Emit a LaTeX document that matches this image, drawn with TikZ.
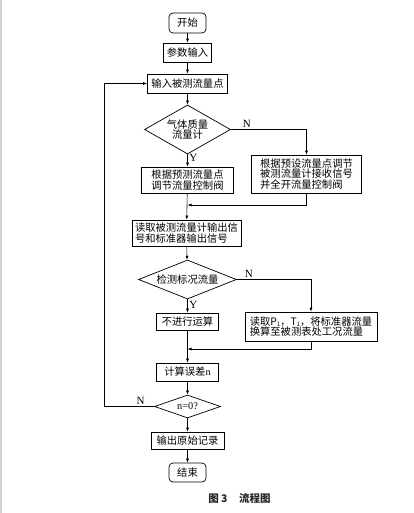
\documentclass[tikz,border=0pt]{standalone}
\usepackage{fontspec}
\setmainfont{Liberation Serif}
\newfontfamily\cjk{Noto Sans CJK SC}
\usetikzlibrary{shapes.geometric}
\usetikzlibrary{arrows.meta}

\tikzset{
  box/.style={draw, line width=0.25mm, inner sep=0pt, font=\cjk\fontsize{10.3}{10.5}\selectfont},
  endbox/.style={box, rounded corners=4pt},
  dia/.style={draw, diamond, line width=0.25mm, inner sep=0pt, font=\cjk\fontsize{10.3}{10.5}\selectfont, align=center},
  arr/.style={line width=0.2mm, -{Latex[length=4pt,width=3pt]}},
  yn/.style={font=\fontsize{11}{11}\selectfont, inner sep=1.5pt}
}

\begin{document}
\begin{tikzpicture}[x=1pt, y=-1pt]
      \useasboundingbox (0, 0) rectangle (414, 513);
      \fill[gray!35] (0, 0) rectangle (2, 513);

      \node[endbox, minimum width=37pt, minimum height=20pt] (start) at (187.5, 23) {开始};
      \node[box, minimum width=48pt, minimum height=19pt] (param) at (187.5, 52.5) {参数输入};
      \node[box, minimum width=80pt, minimum height=19pt] (input) at (187.5, 83.5) {输入被测流量点};
      \node[dia, minimum width=86pt, minimum height=49pt, shape aspect=1.75] (gas) at (187.5, 129.5) {气体质量\\流量计};
      \node[box, minimum width=92pt, minimum height=26pt, align=left] (predict) at (187.5, 180) {根据预测流量点\\调节流量控制阀};
      \node[box, minimum width=110pt, minimum height=38pt, align=left] (preset) at (306.5, 174) {根据预设流量点调节\\被测流量计接收信号\\并全开流量控制阀};
      \coordinate (join1) at (187.5, 205);

      \node[box, minimum width=109pt, minimum height=26pt, align=left] (read) at (186.5, 233) {读取被测流量计输出信\\号和标准器输出信号};
      \node[dia, minimum width=98pt, minimum height=39pt, shape aspect=2.5] (std) at (187.5, 279.5) {检测标况流量};
      \node[box, minimum width=62pt, minimum height=17pt] (nocalc) at (187.5, 321.5) {不进行运算};
      \node[box, minimum width=132pt, minimum height=29pt, align=left] (convert) at (311, 326.5) {读取P{\fontsize{6}{6}\selectfont\raisebox{-1.5pt}{1}}，T{\fontsize{6}{6}\selectfont\raisebox{-1.5pt}{1}}，将标准器流量\\换算至被测表处工况流量};
      \coordinate (join2) at (187.5, 349);

      \node[box, minimum width=62pt, minimum height=18pt] (err) at (187.5, 372) {计算误差{\rmfamily n}};
      \node[dia, minimum width=66pt, minimum height=23pt, shape aspect=2.9] (zero) at (187.5, 406.5) {\rmfamily n=0?};
      \node[box, minimum width=73pt, minimum height=17pt] (out) at (187.5, 440.5) {输出原始记录};
      \node[endbox, minimum width=37pt, minimum height=19pt] (stop) at (187.5, 472.5) {结束};
      \coordinate (loop) at (104, 406.5);

      \node[font=\cjk\bfseries\fontsize{10.5}{10.5}\selectfont, text=black!85] (caption) at (239.5, 498) {图 3\hspace{1.1em}流程图};

      % main column
      \draw[arr] (start) -- (param);
      \draw[arr] (param) -- (input);
      \draw[arr] (input) -- (gas);
      \draw[arr] (gas) -- node[yn, pos=0.3, right] {Y} (predict);
      \draw[arr] (gas.east) -| node[yn, pos=0.105, above] {N} (preset.north);
      \draw[arr] (predict) -- (read);
      \draw[arr] (preset.south) |- (join1);
      \draw[arr] (read) -- (std);
      \draw[arr] (std) -- node[yn, pos=0.4, right] {Y} (nocalc);
      \draw[arr] (std.east) -| node[yn, pos=0.08, above] {N} (convert.north);
      \draw[arr] (nocalc) -- (err);
      \draw[arr] (convert.south) |- (join2);
      \draw[arr] (err) -- (zero);
      \draw[arr] (zero) -- (out);
      \draw[arr] (out) -- (stop);
      % back to input
      \draw[arr] (zero.west) -- node[yn, pos=0.27, above] {N} (loop) |- (input.west);
    \end{tikzpicture}
\end{document}
